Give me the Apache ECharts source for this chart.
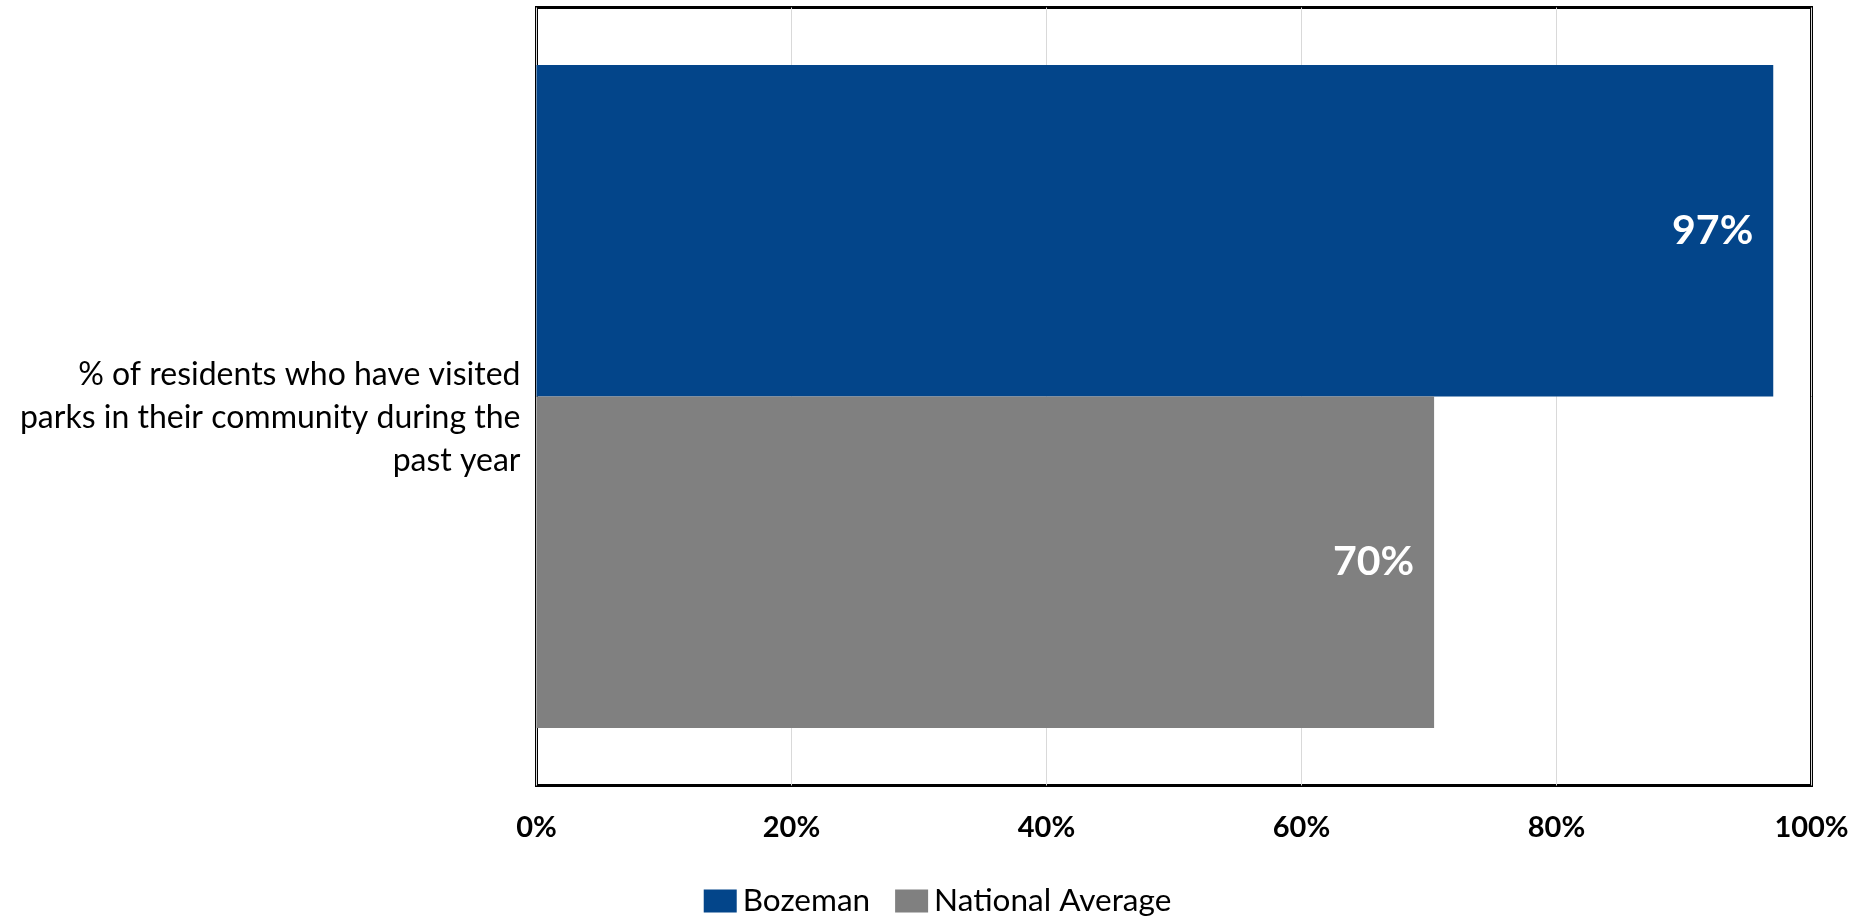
<!DOCTYPE html>
<html>
<head>
<meta charset="utf-8">
<script src="https://cdn.jsdelivr.net/npm/echarts@6/dist/echarts.min.js"></script>
<style>
html,body{margin:0;padding:0;background:#fff;}
#chart{width:1875px;height:919px;}
</style>
</head>
<body>
<div id="chart"></div>
<script>
const categories = ['% of residents who have visited\nparks in their community during the\npast year'];
const seriesNames = ['Bozeman', 'National Average'];
const bozemanValues = [97];
const nationalValues = [70.4];
const xTicks = [0, 20, 40, 60, 80, 100];

const FONT = 'Lato, "Open Sans", sans-serif';
const chart = echarts.init(document.getElementById('chart'));
const labelStyle = {
  show: true,
  position: 'insideRight',
  distance: 20,
  color: '#fff',
  fontWeight: 'bold',
  fontSize: 41,
  fontFamily: FONT,
  formatter: p => Math.round(p.value) + '%'
};
chart.setOption({
  animation: false,
  backgroundColor: '#fff',
  grid: {
    left: 536.5, top: 7.5, right: 63.5, bottom: 133.5,
    show: true, borderColor: '#000', borderWidth: 3, backgroundColor: 'transparent'
  },
  legend: {
    data: seriesNames,
    top: 880,
    left: 'center',
    itemWidth: 33,
    itemHeight: 23,
    itemGap: 25,
    icon: 'rect',
    textStyle: { fontSize: 31.5, fontFamily: FONT, color: '#000', padding: [0, 0, 0, 1] }
  },
  xAxis: {
    type: 'value',
    min: xTicks[0], max: xTicks[xTicks.length - 1], interval: 20,
    axisLine: { show: false },
    axisTick: { show: false },
    splitLine: { show: true, lineStyle: { color: '#d9d9d9', width: 1 } },
    axisLabel: {
      formatter: '{value}%', fontSize: 29, fontWeight: 'bold', color: '#000',
      fontFamily: FONT, margin: 28
    }
  },
  yAxis: {
    type: 'category',
    data: categories,
    inverse: true,
    axisLine: { show: false },
    axisTick: { show: false },
    axisLabel: {
      fontSize: 32, color: '#000', fontFamily: FONT, align: 'right',
      lineHeight: 43, margin: 16,
      formatter: v => '\n' + v
    }
  },
  series: [
    {
      name: seriesNames[0], type: 'bar', data: bozemanValues,
      itemStyle: { color: '#03458A' }, barGap: '0%', barCategoryGap: '14.8%',
      label: labelStyle
    },
    {
      name: seriesNames[1], type: 'bar', data: nationalValues,
      itemStyle: { color: '#808080' }, barGap: '0%', barCategoryGap: '14.8%',
      label: labelStyle
    }
  ]
});
</script>
</body>
</html>
